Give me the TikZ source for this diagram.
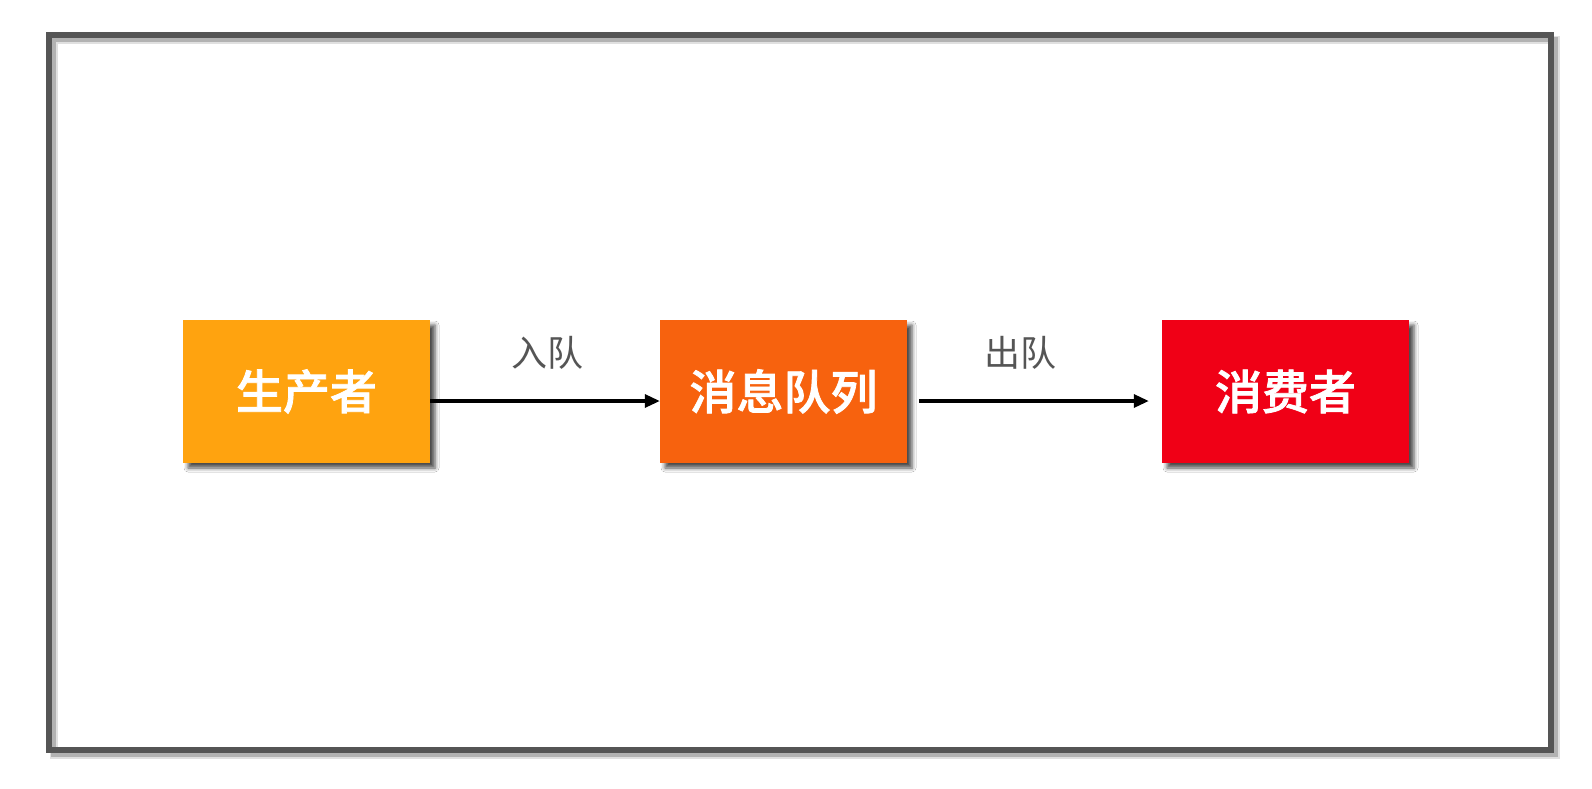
\documentclass[tikz,border=0pt]{standalone}
\usepackage{fontspec}
\setmainfont{Noto Sans CJK SC}
\newfontfamily\cjkmed[FakeBold=1.6]{Noto Sans CJK SC Medium}
\usetikzlibrary{arrows.meta,shadows,shadows.blur}
\definecolor{cA}{HTML}{FFA30F}
\definecolor{cB}{HTML}{F7620E}
\definecolor{cC}{HTML}{F00016}
\definecolor{frame}{HTML}{555555}
\definecolor{lbl}{HTML}{555555}
\tikzset{
  box/.style={minimum width=247pt, minimum height=143pt, inner sep=0pt,
    text=white, font=\fontsize{47}{50}\selectfont\cjkmed,
    blur shadow={shadow xshift=5pt, shadow yshift=-5pt, shadow blur radius=4pt, shadow opacity=70}},
  lab/.style={text=lbl, font=\fontsize{36}{40}\selectfont, inner sep=0pt},
  arr/.style={line width=3.2pt, -{Triangle[length=15pt,width=13pt]}}
}
\begin{document}
\begin{tikzpicture}[x=1pt,y=-1pt]
\useasboundingbox[fill=white] (0,0) rectangle (1592,788);
% frame shadow and frame
\draw[line width=8pt, black!12] (54,40) rectangle (1556,755);
\draw[line width=5pt, black!30] (53,39) rectangle (1555,754);
\draw[line width=6pt, frame] (49,35) rectangle (1551,750);
% boxes
\node[box, fill=cA] (b1) at (306.5,391.5) {生产者};
\node[box, fill=cB] (b2) at (783.5,391.5) {消息队列};
\node[box, fill=cC] (b3) at (1285.5,391.5) {消费者};
% arrows
\draw[arr] ([yshift=-9.5pt]b1.east) -- ([yshift=-9.5pt]b2.west);
\draw[arr, shorten <=12pt, shorten >=13pt] ([yshift=-9.5pt]b2.east) -- ([yshift=-9.5pt]b3.west);
% labels
\node[lab] (l1) at (547,353) {入队};
\node[lab] (l2) at (1020,353) {出队};
\end{tikzpicture}
\end{document}
